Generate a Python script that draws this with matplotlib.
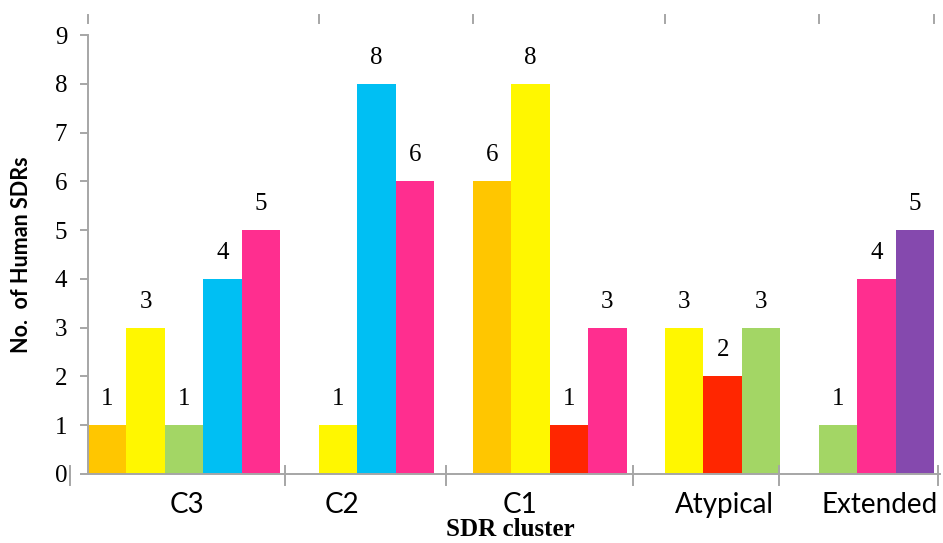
import numpy as np
import matplotlib
matplotlib.use("Agg")
import matplotlib.pyplot as plt
from matplotlib.lines import Line2D

# ---- data -------------------------------------------------------------
categories = ["C3", "C2", "C1", "Atypical", "Extended"]

c3_values = [1, 3, 1, 4, 5]
c2_values = [1, 8, 6]
c1_values = [6, 8, 1, 3]
atypical_values = [3, 2, 3]
extended_values = [1, 4, 5]

c3_colors = ["orange", "yellow", "green", "blue", "pink"]
c2_colors = ["yellow", "blue", "pink"]
c1_colors = ["orange", "yellow", "red", "pink"]
atypical_colors = ["yellow", "red", "green"]
extended_colors = ["green", "pink", "purple"]

y_ticks = [0, 1, 2, 3, 4, 5, 6, 7, 8, 9]

# ---- styling ----------------------------------------------------------
palette = {
    "orange": "#FFC600",
    "yellow": "#FFF700",
    "green": "#A3D665",
    "blue": "#00BFF3",
    "pink": "#FF2E8F",
    "red": "#FF2600",
    "purple": "#8549AE",
}
axis_grey = "#A6A6A6"

group_values = [c3_values, c2_values, c1_values, atypical_values, extended_values]
group_colors = [c3_colors, c2_colors, c1_colors, atypical_colors, extended_colors]

# category label positions and separator marks along the x axis (slot units)
label_pos = [2.58, 6.59, 11.22, 16.54, 20.57]
separator_pos = [-0.47, 5.13, 9.30, 14.17, 17.97, 22.1]

fig = plt.figure(figsize=(9.43, 5.43), dpi=100)
ax = fig.add_axes([88 / 943, 69 / 543, 852 / 943, 439 / 543])

# bars: one slot per bar, one empty slot between groups
starts = []
pos = 0
for vals, cols in zip(group_values, group_colors):
    starts.append(pos)
    x = pos + np.arange(len(vals))
    ax.bar(x, vals, width=1.0, align="edge",
           color=[palette[c] for c in cols], linewidth=0, zorder=2)
    for xi, v in zip(x, vals):
        ax.annotate(str(v), (xi + 0.5, v), xytext=(0, 14.5),
                    textcoords="offset points", ha="center", va="baseline",
                    fontsize=18, family="Liberation Serif", color="black")
    pos += len(vals) + 1
end_slot = pos - 1

ax.set_xlim(0, 22.15)
ax.set_ylim(0, 9)

# spines
for s in ["top", "right"]:
    ax.spines[s].set_visible(False)
for s in ["left", "bottom"]:
    ax.spines[s].set_color(axis_grey)
    ax.spines[s].set_linewidth(1.4)

# y axis
ax.set_yticks(y_ticks)
ax.set_yticklabels([str(t) for t in y_ticks], family="Liberation Serif", fontsize=18)
ax.tick_params(axis="y", direction="out", length=6, width=1.4, color=axis_grey, pad=9)

# x axis category labels
ax.set_xticks(label_pos)
ax.set_xticklabels(categories, family="Lato", fontsize=20)
ax.tick_params(axis="x", length=0, pad=13)

# separator marks crossing the bottom axis
for xs in separator_pos:
    ax.add_line(Line2D([xs, xs], [0.018, -0.025], transform=ax.get_xaxis_transform(),
                       color=axis_grey, lw=1.4, clip_on=False))

# short marks above the plot at each group start
for xs in starts + [end_slot]:
    ax.add_line(Line2D([xs, xs], [1.027, 1.046], transform=ax.get_xaxis_transform(),
                       color=axis_grey, lw=1.4, clip_on=False))

ax.set_xlabel("SDR cluster", family="Liberation Serif", fontweight="bold", fontsize=18,
              labelpad=0)
ax.xaxis.set_label_coords((510 - 88) / 852, -0.100)
ax.set_ylabel("No.  of Human SDRs", family="Lato", fontweight="bold", fontsize=15.5)
ax.yaxis.set_label_coords(-(88 - 32) / 852, 0.5)

fig.savefig("out.png", dpi=100)
